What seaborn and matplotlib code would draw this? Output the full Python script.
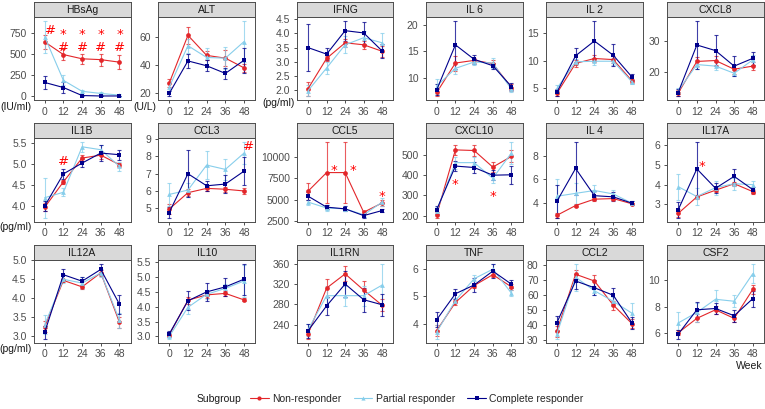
import numpy as np
import pandas as pd
import matplotlib
matplotlib.use('Agg')
import matplotlib.pyplot as plt
from matplotlib.lines import Line2D
import seaborn as sns

weeks = [0, 12, 24, 36, 48]
groups = ['Non-responder', 'Partial responder', 'Complete responder']

# mean values per group: [non, partial, complete]
hbsag_mean = [[640, 490, 440, 430, 400], [700, 185, 55, 30, 10], [160, 100, 5, 0, 0]]
hbsag_se = [[80, 70, 60, 70, 80], [190, 60, 20, 15, 10], [75, 70, 5, 3, 3]]
alt_mean = [[27, 61.5, 47, 45, 38], [24, 54, 45.5, 45, 57], [19.5, 43, 39.5, 34, 43.5]]
alt_se = [[3, 6, 3, 6, 3], [3, 5, 7, 8, 15], [2, 5, 4, 4, 9]]
ifng_mean = [[2.05, 3.12, 3.67, 3.6, 3.37], [1.98, 2.78, 3.6, 3.85, 3.67], [3.5, 3.27, 4.1, 4.02, 3.38]]
ifng_se = [[0.25, 0.1, 0.15, 0.15, 0.2], [0.2, 0.22, 0.3, 0.25, 0.33], [0.83, 0.2, 0.35, 0.38, 0.25]]
il6_mean = [[7.3, 12.8, 13.3, 12.7, 8.2], [8.5, 11.8, 13.0, 12.8, 7.9], [7.8, 16.2, 13.5, 12.3, 8.4]]
il6_se = [[0.7, 1.4, 0.5, 0.6, 0.6], [1.4, 1.0, 0.6, 1.0, 0.5], [1.0, 4.5, 0.8, 0.6, 0.7]]
il2_mean = [[4.0, 9.5, 10.4, 10.2, 6.3], [4.9, 9.8, 9.9, 9.9, 6.1], [4.2, 10.9, 13.6, 11.0, 7.0]]
il2_se = [[0.5, 0.6, 0.6, 0.6, 0.4], [0.7, 0.6, 0.6, 0.6, 0.4], [0.6, 1.4, 3.7, 2.0, 0.6]]
cxcl8_mean = [[13.3, 23.5, 23.8, 21.0, 22.0], [14.0, 22.5, 22.0, 19.7, 24.0], [13.5, 28.8, 27.0, 22.0, 24.5]]
cxcl8_se = [[1.0, 1.5, 1.5, 1.5, 1.2], [1.0, 1.5, 1.2, 1.0, 1.5], [1.0, 7.8, 5.0, 3.3, 2.0]]
il1b_mean = [[3.97, 4.58, 5.15, 5.22, 4.99], [4.2, 4.33, 5.42, 5.35, 4.95], [4.0, 4.77, 5.03, 5.27, 5.23]]
il1b_se = [[0.1, 0.05, 0.08, 0.1, 0.05], [0.48, 0.1, 0.12, 0.12, 0.1], [0.12, 0.12, 0.1, 0.2, 0.12]]
ccl3_mean = [[4.95, 5.9, 6.15, 6.1, 6.0], [5.8, 6.05, 7.5, 7.25, 8.2], [4.75, 7.0, 6.3, 6.4, 7.15]]
ccl3_se = [[0.3, 0.2, 0.15, 0.15, 0.15], [0.65, 0.4, 0.8, 0.6, 0.65], [0.3, 1.35, 0.3, 0.5, 0.8]]
ccl5_mean = [[6000, 8200, 8200, 3500, 4600], [4700, 4000, 3900, 3200, 4700], [5400, 4100, 3900, 3100, 3700]]
ccl5_se = [[1000, 3650, 3650, 200, 400], [300, 300, 300, 300, 500], [500, 200, 300, 250, 200]]
cxcl10_mean = [[205, 525, 522, 440, 493], [225, 462, 462, 385, 510], [230, 445, 438, 400, 402]]
cxcl10_se = [[15, 25, 25, 25, 30], [20, 30, 30, 25, 55], [20, 25, 25, 25, 45]]
il4_mean = [[2.9, 3.75, 4.3, 4.35, 3.9], [4.55, 4.8, 5.05, 4.75, 3.95], [4.1, 6.95, 4.6, 4.5, 3.95]]
il4_se = [[0.2, 0.1, 0.15, 0.15, 0.1], [1.5, 0.9, 0.5, 0.3, 0.15], [1.4, 2.3, 0.4, 0.4, 0.15]]
il17a_mean = [[2.55, 3.38, 3.72, 4.05, 3.65], [3.9, 3.4, 3.85, 4.05, 4.0], [2.73, 4.8, 3.82, 4.42, 3.75]]
il17a_se = [[0.2, 0.1, 0.1, 0.1, 0.1], [0.65, 0.45, 0.35, 0.3, 0.2], [0.4, 1.37, 0.25, 0.35, 0.15]]
il12a_mean = [[3.25, 4.47, 4.3, 4.67, 3.36], [3.3, 4.5, 4.4, 4.67, 3.42], [3.1, 4.62, 4.45, 4.76, 3.84]]
il12a_se = [[0.15, 0.05, 0.05, 0.08, 0.15], [0.25, 0.1, 0.15, 0.1, 0.2], [0.17, 0.15, 0.1, 0.15, 0.25]]
il10_mean = [[3.05, 4.22, 4.4, 4.45, 4.23], [3.0, 3.98, 4.42, 4.62, 4.87], [3.08, 4.2, 4.5, 4.67, 4.93]]
il10_se = [[0.05, 0.12, 0.1, 0.08, 0.05], [0.08, 0.22, 0.15, 0.15, 0.55], [0.1, 0.32, 0.3, 0.3, 0.52]]
il1rn_mean = [[222, 312, 340, 308, 278], [230, 297, 297, 297, 318], [228, 277, 320, 289, 279]]
il1rn_se = [[10, 18, 15, 18, 12], [12, 20, 20, 20, 42], [14, 18, 25, 24, 22]]
tnf_mean = [[3.75, 4.78, 5.4, 5.8, 5.35], [3.7, 4.85, 5.65, 6.0, 5.12], [4.15, 5.1, 5.42, 5.93, 5.45]]
tnf_se = [[0.2, 0.1, 0.1, 0.1, 0.1], [0.25, 0.1, 0.15, 0.2, 0.12], [0.27, 0.18, 0.25, 0.25, 0.15]]
ccl2_mean = [[36, 74, 69.5, 53.5, 41], [34, 72, 63, 56, 48], [41.5, 69.5, 65, 60, 41.5]]
ccl2_se = [[3.5, 3, 4, 3, 3], [3, 9, 3, 3, 7], [5, 5, 5, 5, 4]]
csf2_mean = [[6.0, 7.1, 7.75, 7.1, 9.3], [6.75, 7.55, 8.55, 8.4, 10.5], [5.9, 7.75, 7.85, 7.3, 8.6]]
csf2_se = [[0.2, 0.3, 0.3, 0.25, 0.35], [0.8, 0.7, 0.7, 0.45, 0.75], [0.35, 0.6, 0.45, 0.45, 0.6]]

panels = ['HBsAg', 'ALT', 'IFNG', 'IL 6', 'IL 2', 'CXCL8',
          'IL1B', 'CCL3', 'CCL5', 'CXCL10', 'IL 4', 'IL17A',
          'IL12A', 'IL10', 'IL1RN', 'TNF', 'CCL2', 'CSF2']
means = [hbsag_mean, alt_mean, ifng_mean, il6_mean, il2_mean, cxcl8_mean,
         il1b_mean, ccl3_mean, ccl5_mean, cxcl10_mean, il4_mean, il17a_mean,
         il12a_mean, il10_mean, il1rn_mean, tnf_mean, ccl2_mean, csf2_mean]
ses = [hbsag_se, alt_se, ifng_se, il6_se, il2_se, cxcl8_se,
       il1b_se, ccl3_se, ccl5_se, cxcl10_se, il4_se, il17a_se,
       il12a_se, il10_se, il1rn_se, tnf_se, ccl2_se, csf2_se]

yticks = [[0, 250, 500, 750], [20, 40, 60], [2.0, 2.5, 3.0, 3.5, 4.0, 4.5], [10, 15, 20], [5, 10, 15], [20, 30],
          [4.0, 4.5, 5.0, 5.5], [5, 6, 7, 8, 9], [2500, 5000, 7500, 10000], [200, 300, 400, 500], [4, 6, 8], [3, 4, 5, 6],
          [3.0, 3.5, 4.0, 4.5, 5.0], [3.0, 3.5, 4.0, 4.5, 5.0, 5.5], [240, 280, 320, 360], [4, 5, 6], [30, 40, 50, 60, 70, 80], [6, 8, 10]]
decimals = ['IFNG', 'IL1B', 'IL12A', 'IL10']
# unit label and its vertical pixel position
units = {'HBsAg': ('(IU/ml)', 107), 'ALT': ('(U/L)', 106.5), 'IFNG': ('(pg/ml)', 102.5),
         'IL1B': ('(pg/ml)', 227.5), 'IL12A': ('(pg/ml)', 348.5)}

# significance marks: panel, week, value, symbol
marks = [('HBsAg', 3.7, 790, '#'),
         ('HBsAg', 12, 766, '*\n#'), ('HBsAg', 24, 766, '*\n#'), ('HBsAg', 36, 766, '*\n#'), ('HBsAg', 48, 766, '*\n#'),
         ('IL1B', 12, 5.09, '#'), ('CCL3', 51, 8.67, '#'),
         ('CCL5', 17, 8840, '*'), ('CCL5', 29, 8840, '*'), ('CCL5', 48, 5830, '*'),
         ('CXCL10', 12, 370, '*'), ('CXCL10', 36, 312, '*'),
         ('IL17A', 15.5, 5.12, '*')]

palette = {'Non-responder': '#E3262A', 'Partial responder': '#87CEEB', 'Complete responder': '#00008B'}
marker_map = {'Non-responder': 'o', 'Partial responder': '^', 'Complete responder': 's'}

sns.set_style('white')
plt.rcParams['font.family'] = ['Liberation Sans', 'DejaVu Sans']

W, H = 765, 409
fig = plt.figure(figsize=(W / 100, H / 100), dpi=100)

col_l = [33.5, 158, 297, 425.5, 545.5, 667]
col_r = [130.7, 255.3, 393.3, 522.7, 643.3, 764]
rows = [(17, 100), (138, 221.5), (260, 342.5)]
strip_h = 15
border = '#4D4D4D'
mark_fs = 9.5

for i, name in enumerate(panels):
    r, c = divmod(i, 6)
    top, bot = rows[r]
    l, rr = col_l[c], col_r[c]
    ax = fig.add_axes([l / W, 1 - bot / H, (rr - l) / W, (bot - top) / H])
    sax = fig.add_axes([l / W, 1 - top / H, (rr - l) / W, strip_h / H])
    sax.set_facecolor('#D9D9D9')
    sax.set_xticks([]); sax.set_yticks([])
    for s in sax.spines.values():
        s.set_color(border); s.set_linewidth(0.7)
    sax.text(0.5, 0.45, name, ha='center', va='center', fontsize=7.5, color='#1A1A1A', transform=sax.transAxes)

    rows_df = []
    for g, m in zip(groups, means[i]):
        for w, v in zip(weeks, m):
            rows_df.append({'week': w, 'value': v, 'group': g})
    df = pd.DataFrame(rows_df)

    for g, m, e in zip(groups, means[i], ses[i]):
        ax.errorbar(weeks, m, yerr=e, fmt='none', ecolor=palette[g], elinewidth=0.8,
                    capsize=1.6, capthick=0.8, alpha=0.75, zorder=2)
    sns.lineplot(data=df, x='week', y='value', hue='group', style='group', palette=palette,
                 markers=marker_map, dashes=False, linewidth=0.8, markersize=3.4,
                 markeredgewidth=0, legend=False, ax=ax, zorder=3)

    lo = min(min(np.array(m) - np.array(e)) for m, e in zip(means[i], ses[i]))
    hi = max(max(np.array(m) + np.array(e)) for m, e in zip(means[i], ses[i]))
    for p, x, y, t in marks:
        if p == name:
            hi = max(hi, y)
    pad = (hi - lo) * 0.05
    ax.set_ylim(lo - pad, hi + pad)
    ax.set_xlim(-7.2, 55.2)
    ax.set_xticks(weeks)
    ax.set_xticklabels([str(w) for w in weeks])
    ax.set_yticks(yticks[i])
    if name in decimals:
        ax.set_yticklabels([f'{v:.1f}' for v in yticks[i]])
    else:
        ax.set_yticklabels([str(v) for v in yticks[i]])
    ax.set_xlabel(''); ax.set_ylabel('')
    ax.tick_params(axis='both', labelsize=7.5, labelcolor='#4D4D4D', color='#333333',
                   length=2.5, width=0.6, pad=2.5, bottom=True, left=True)
    for s in ax.spines.values():
        s.set_color(border); s.set_linewidth(0.7)

    for p, x, y, t in marks:
        if p != name:
            continue
        if t == '*\n#':
            ax.annotate(t, (x, y), xytext=(0, 0.22 * mark_fs), textcoords='offset points',
                        ha='center', va='top', fontsize=mark_fs, linespacing=0.92,
                        family='DejaVu Sans', color='#FF0000', zorder=5)
        else:
            dy = -0.265 * mark_fs if t == '*' else -0.09 * mark_fs
            ax.annotate(t, (x, y), xytext=(0, dy), textcoords='offset points',
                        ha='center', va='center', fontsize=mark_fs,
                        family='DejaVu Sans', color='#FF0000', zorder=5)

    if name in units:
        txt, ypx = units[name]
        fig.text((l - 2) / W, 1 - ypx / H, txt, ha='right', va='center',
                 fontsize=7.5, color='#1A1A1A')

fig.text(763 / W, 1 - 366 / H, 'Week', ha='right', va='center', fontsize=7.5, color='#1A1A1A')
fig.text(197 / W, 1 - 399 / H, 'Subgroup', ha='left', va='center', fontsize=7.5, color='#1A1A1A')
handles = [Line2D([0], [0], color=palette[g], marker=marker_map[g], markersize=3, lw=0.8, markeredgewidth=0)
           for g in groups]
fig.legend(handles, groups, loc='center left', bbox_to_anchor=(250 / W, 1 - 399 / H), ncol=3,
           frameon=False, fontsize=7.5, handlelength=1.8, handletextpad=0.3, columnspacing=1.2,
           borderaxespad=0, borderpad=0, numpoints=1)

fig.savefig('out.png', dpi=100)
